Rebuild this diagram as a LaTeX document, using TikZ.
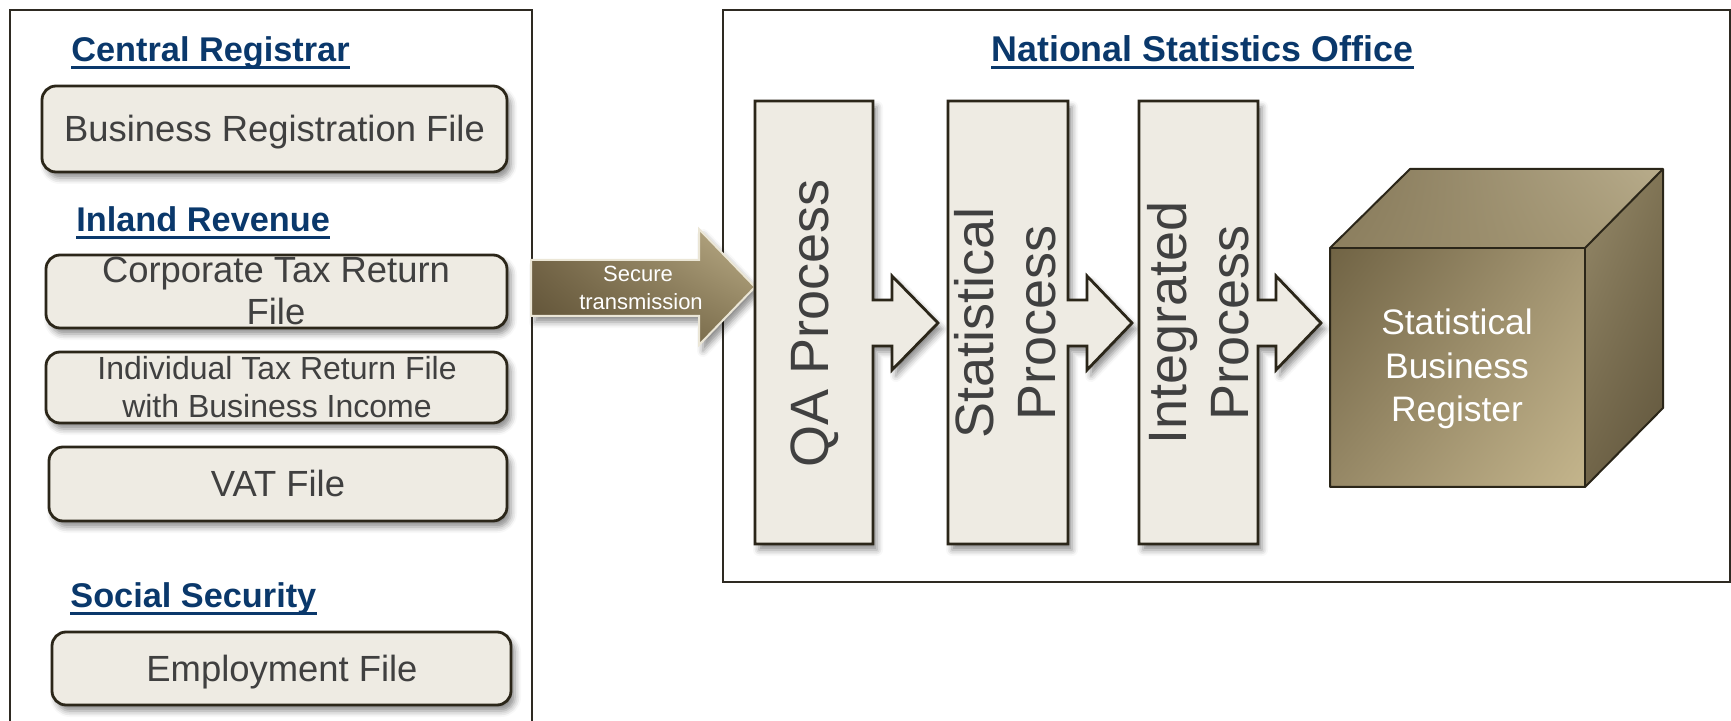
\documentclass[tikz,border=0pt]{standalone}
\usepackage{fontspec}
\setmainfont{Liberation Sans}
\usetikzlibrary{shadows.blur,shadings}

\definecolor{frameline}{HTML}{2E2A22}
\definecolor{boxfill}{HTML}{EEEBE3}
\definecolor{boxline}{HTML}{2B2619}
\definecolor{navy}{HTML}{0A386B}
\definecolor{ink}{HTML}{404040}
\definecolor{cream}{HTML}{EBE6D6}
% arrow shading
\definecolor{arUL}{RGB}{122,107,76}
\definecolor{arLL}{RGB}{92,79,52}
\definecolor{arUR}{RGB}{190,176,138}
\definecolor{arLR}{RGB}{132,118,84}
% cube top face
\definecolor{tpUL}{RGB}{132,119,88}
\definecolor{tpLL}{RGB}{140,127,95}
\definecolor{tpUR}{RGB}{184,172,139}
\definecolor{tpLR}{RGB}{172,159,124}
% cube side face
\definecolor{sdUL}{RGB}{150,138,106}
\definecolor{sdLL}{RGB}{112,100,72}
\definecolor{sdUR}{RGB}{128,116,85}
\definecolor{sdLR}{RGB}{96,85,60}
% cube front face
\definecolor{frUL}{RGB}{112,99,68}
\definecolor{frLL}{RGB}{150,136,102}
\definecolor{frUR}{RGB}{165,151,116}
\definecolor{frLR}{RGB}{196,181,140}

\begin{document}
\begin{tikzpicture}[x=0.5pt,y=-0.5pt,
  outerframe/.style={draw=frameline, line width=1pt},
  softshadow/.style={blur shadow={shadow xshift=2pt, shadow yshift=-3pt, shadow blur radius=3pt, shadow opacity=45}},
  filebox/.style={draw=boxline, fill=boxfill, line width=1.4pt, rounded corners=7pt, softshadow, inner sep=0pt},
  ftext/.style={text=ink, font=\fontsize{18.2}{21}\selectfont, anchor=base, inner sep=0pt},
  fsmall/.style={text=ink, font=\fontsize{16}{19}\selectfont, anchor=base, inner sep=0pt},
  heading/.style={text=navy, font=\bfseries\fontsize{17.15}{21}\selectfont, anchor=base west, inner sep=0pt},
  uline/.style={draw=navy, line width=1.5pt},
  procbar/.style={draw=boxline, fill=boxfill, line width=1.4pt, softshadow},
  proctext/.style={text=ink, font=\fontsize{27}{31}\selectfont, rotate=90, align=center, inner sep=0pt},
  sectext/.style={text=white, font=\fontsize{11}{14}\selectfont, anchor=base, inner sep=0pt},
  cubetext/.style={text=white, font=\fontsize{17.7}{21.75}\selectfont, align=center, inner sep=0pt},
  cubeedge/.style={draw=boxline, line width=1pt, line join=round}]

\useasboundingbox (0,0) rectangle (1731,721);

% outer frames
\draw[outerframe] (10,10) rectangle (532,740);
\draw[outerframe] (723,10) rectangle (1729.5,582);

% ---- source agencies ----
\node[heading] (cr) at (71,62) {Central Registrar};
\draw[uline] ([yshift=-3pt]cr.base west) -- ([yshift=-3pt]cr.base east);

\node[filebox, minimum width=232.5pt, minimum height=43pt] (brf) at (274.5,129) {};
\node[ftext] (brft) at (274.5,142) {Business Registration File};

\node[heading] (ir) at (76,232) {Inland Revenue};
\draw[uline] ([yshift=-3pt]ir.base west) -- ([yshift=-3pt]ir.base east);

\node[filebox, minimum width=230.5pt, minimum height=36.5pt] (ctr) at (276.5,291.5) {};
\node[ftext] (ctra) at (276,283) {Corporate Tax Return};
\node[ftext] (ctrb) at (276,325) {File};

\node[filebox, minimum width=230.5pt, minimum height=35.5pt] (itr) at (276.5,387.5) {};
\node[fsmall] (itra) at (277,380) {Individual Tax Return File};
\node[fsmall] (itrb) at (277,418) {with Business Income};

\node[filebox, minimum width=229pt, minimum height=37pt] (vat) at (278,484) {};
\node[ftext] (vatt) at (278,497) {VAT File};

\node[heading] (ss) at (70,608) {Social Security};
\draw[uline] ([yshift=-3pt]ss.base west) -- ([yshift=-3pt]ss.base east);

\node[filebox, minimum width=229.5pt, minimum height=36.5pt] (emp) at (281.5,668.5) {};
\node[ftext] (empt) at (282,682) {Employment File};

% ---- secure transmission arrow ----
\path[softshadow, shade,
      upper left=arUL, lower left=arLL, upper right=arUR, lower right=arLR,
      draw=cream, line width=1pt, line join=miter]
  (531,260) -- (699,260) -- (699,229) -- (755,287) -- (699,345) -- (699,316) -- (531,316) -- cycle;
\node[sectext] (sec1) at (638,282) {Secure};
\node[sectext] (sec2) at (641,310) {transmission};

% ---- National Statistics Office ----
\node[heading, font=\bfseries\fontsize{17.9}{21}\selectfont] (nso) at (991,62) {National Statistics Office};
\draw[uline] ([yshift=-3pt]nso.base west) -- ([yshift=-3pt]nso.base east);

% process bars with their outgoing arrows
\path[procbar] (755,101) -- (873,101) -- (873,300) -- (892,300) -- (892,276) -- (938,323)
  -- (892,370) -- (892,346) -- (873,346) -- (873,544) -- (755,544) -- cycle;
\node[proctext] (qa) at (815,323) {QA Process};

\path[procbar] (948,101) -- (1068,101) -- (1068,300) -- (1087,300) -- (1087,276) -- (1132,323)
  -- (1087,370) -- (1087,346) -- (1068,346) -- (1068,544) -- (948,544) -- cycle;
\node[proctext] (stp) at (1005,323) {Statistical\\Process};

\path[procbar] (1139,101) -- (1258,101) -- (1258,300) -- (1276,300) -- (1276,276) -- (1321,323)
  -- (1276,370) -- (1276,346) -- (1258,346) -- (1258,544) -- (1139,544) -- cycle;
\node[proctext] (inp) at (1198,323) {Integrated\\Process};

% ---- register cube ----
\coordinate (fa) at (1330,248);
\coordinate (fb) at (1585,248);
\coordinate (fc) at (1585,487);
\coordinate (fd) at (1330,487);
\coordinate (ta) at (1410,169);
\coordinate (tb) at (1663,169);
\coordinate (rb) at (1663,408);

\path[shade, upper left=tpUL, lower left=tpLL, upper right=tpUR, lower right=tpLR]
  (fa) -- (ta) -- (tb) -- (fb) -- cycle;
\path[shade, upper left=sdUL, lower left=sdLL, upper right=sdUR, lower right=sdLR]
  (fb) -- (tb) -- (rb) -- (fc) -- cycle;
\path[shade, upper left=frUL, lower left=frLL, upper right=frUR, lower right=frLR]
  (fa) -- (fb) -- (fc) -- (fd) -- cycle;
\draw[cubeedge] (fa) -- (ta) -- (tb) -- (rb) -- (fc) -- (fd) -- cycle;
\draw[cubeedge] (fa) -- (fb) -- (fc);
\draw[cubeedge] (fb) -- (tb);
\node[cubetext] (sbr) at (1457,369) {Statistical\\Business\\Register};

\end{tikzpicture}
\end{document}
